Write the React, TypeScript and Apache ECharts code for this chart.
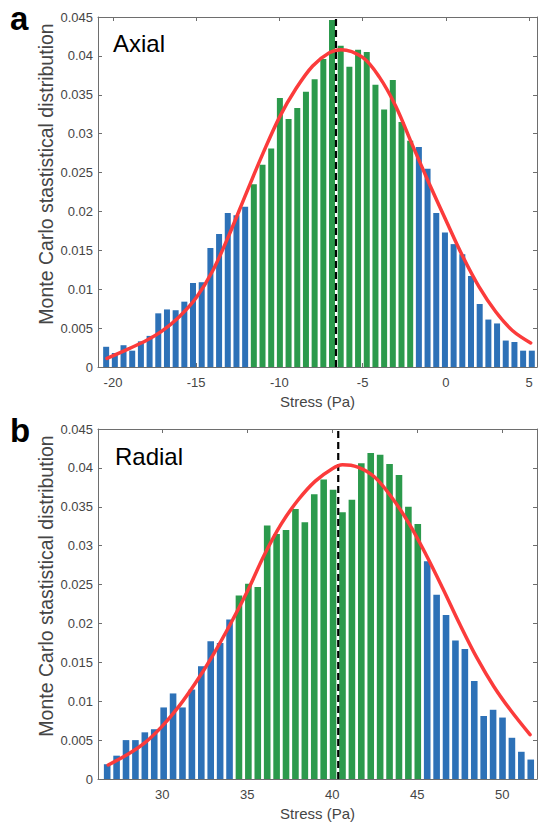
import React, { useEffect, useRef } from "react";
import * as echarts from "echarts";

// ---------- Data ----------
// Panel a (Axial)
const axialBinStart = -20.41; // centre of first bin (Pa)
const axialBinWidth = 0.522;
const axialValues = [
  0.0026, 0.0018, 0.0028, 0.0021, 0.0033, 0.004, 0.0069, 0.0074, 0.0073, 0.0084,
  0.0108, 0.0109, 0.0153, 0.0171, 0.0198, 0.0195, 0.0206, 0.0235, 0.026, 0.0281,
  0.0346, 0.0319, 0.0333, 0.0354, 0.037, 0.0396, 0.0446, 0.0413, 0.0386, 0.0408,
  0.0405, 0.0363, 0.0331, 0.0369, 0.0315, 0.0291, 0.0283, 0.0255, 0.0198, 0.0173,
  0.0158, 0.0145, 0.0117, 0.0081, 0.0061, 0.0056, 0.0034, 0.0032, 0.0021, 0.0021,
];
const axialCentralRange = [17, 35]; // indices of green (central) bins
const axialMean = -6.6;
const axialFitX = [-20.36, -19, -18, -17, -16, -15, -14, -13, -12, -11, -10, -9, -8, -7, -6.3, -5, -4, -3, -2, -1, 0, 1, 2, 3, 4, 5.1];
const axialFitY = [0.0011, 0.0024, 0.0034, 0.0047, 0.0065, 0.0089, 0.0124, 0.0171, 0.0223, 0.0274, 0.0321, 0.0358, 0.0387, 0.0404, 0.0408, 0.0398, 0.0373, 0.0335, 0.0285, 0.0236, 0.0189, 0.0143, 0.0103, 0.0071, 0.0047, 0.0031];
const axialXTicks = [-20, -15, -10, -5, 0, 5];
const axialXRange = [-20.9, 5.48];

// Panel b (Radial)
const radialBinStart = 26.76;
const radialBinWidth = 0.5536;
const radialValues = [
  0.0019, 0.003, 0.005, 0.005, 0.006, 0.0064, 0.0092, 0.011, 0.0092, 0.0115,
  0.0145, 0.0177, 0.0175, 0.0205, 0.0236, 0.0251, 0.0247, 0.0326, 0.0315, 0.032,
  0.0347, 0.033, 0.0366, 0.0385, 0.0372, 0.0343, 0.0359, 0.0406, 0.0419, 0.0417,
  0.0405, 0.0391, 0.035, 0.0328, 0.028, 0.0237, 0.0211, 0.0178, 0.0167, 0.0126,
  0.0081, 0.0089, 0.0079, 0.0053, 0.0035, 0.0025,
];
const radialCentralRange = [14, 33];
const radialMean = 40.35;
const radialFitX = [26.82, 28, 29, 30, 31, 32, 33, 34, 35, 36, 37, 38, 39, 40, 40.6, 41.5, 42.5, 43.5, 44.5, 45.5, 46.5, 47.5, 48.5, 49.5, 50.5, 51.63];
const radialFitY = [0.0018, 0.0032, 0.0047, 0.0068, 0.0094, 0.0125, 0.016, 0.0199, 0.0241, 0.0288, 0.0328, 0.0359, 0.0383, 0.0399, 0.0404, 0.0401, 0.0388, 0.0362, 0.0329, 0.0289, 0.0245, 0.0199, 0.0156, 0.0119, 0.0088, 0.0057];
const radialXTicks = [30, 35, 40, 45, 50];
const radialXRange = [26.22, 52.04];

const yMax = 0.045;
const yStep = 0.005;
const panelTitles = ["Axial", "Radial"];
const panelLetters = ["a", "b"];
const xAxisTitle = "Stress (Pa)";
const yAxisTitle = "Monte Carlo stastistical distribution";

// ---------- Styles ----------
const FONT = "'Liberation Sans', Arial, Helvetica, sans-serif";
const BLUE = "#2d71b7";
const GREEN = "#2b9a4c";
const RED = "#fb3b3b";
const AXIS = "#6e6e6e";
const LABEL = "#454545";

export default function App() {
  const ref = useRef<HTMLDivElement>(null);

  useEffect(() => {
    if (!ref.current) return;
    const chart = echarts.init(ref.current, undefined, { renderer: "svg" });

    const grids = [
      { left: 98, top: 17, width: 439, height: 350 },
      { left: 98, top: 429, width: 439, height: 350 },
    ];

    const panels = [
      { start: axialBinStart, w: axialBinWidth, vals: axialValues, central: axialCentralRange, mean: axialMean, fx: axialFitX, fy: axialFitY, ticks: axialXTicks, range: axialXRange, barW: 6 },
      { start: radialBinStart, w: radialBinWidth, vals: radialValues, central: radialCentralRange, mean: radialMean, fx: radialFitX, fy: radialFitY, ticks: radialXTicks, range: radialXRange, barW: 6.6 },
    ];

    const xAxis: any[] = [];
    const yAxis: any[] = [];
    const series: any[] = [];
    const graphic: any[] = [];

    const fmt = (v: number) => String(parseFloat(v.toFixed(4)));

    panels.forEach((p, gi) => {
      const baseX = {
        type: "value",
        gridIndex: gi,
        min: p.range[0],
        max: p.range[1],
        splitLine: { show: false },
        axisLine: { show: true, onZero: false, lineStyle: { color: AXIS, width: 1 } },
        axisTick: { show: true, inside: true, length: 4, lineStyle: { color: AXIS }, customValues: p.ticks },
      };
      xAxis.push({
        ...baseX,
        position: "bottom",
        axisLabel: { show: true, customValues: p.ticks, color: LABEL, fontSize: 13, fontFamily: FONT, margin: 9 },
        name: xAxisTitle,
        nameLocation: "middle",
        nameGap: 27,
        nameTextStyle: { color: LABEL, fontSize: 15, fontFamily: FONT },
      });
      xAxis.push({
        ...baseX,
        position: "top",
        axisLabel: { show: false, customValues: p.ticks },
      });
      const baseY = {
        type: "value",
        gridIndex: gi,
        min: 0,
        max: yMax,
        interval: yStep,
        splitLine: { show: false },
        axisLine: { show: true, onZero: false, lineStyle: { color: AXIS, width: 1 } },
        axisTick: { show: true, inside: true, length: 4, lineStyle: { color: AXIS } },
      };
      yAxis.push({
        ...baseY,
        position: "left",
        axisLabel: { show: true, color: LABEL, fontSize: 13, fontFamily: FONT, margin: 5, formatter: fmt },
      });
      yAxis.push({ ...baseY, position: "right", axisLabel: { show: false } });

      const xi = gi * 2;
      const yi = gi * 2;
      series.push({
        type: "bar",
        xAxisIndex: xi,
        yAxisIndex: yi,
        barWidth: p.barW,
        z: 2,
        data: p.vals.map((v, i) => ({
          value: [p.start + i * p.w, v],
          itemStyle: { color: i >= p.central[0] && i <= p.central[1] ? GREEN : BLUE },
        })),
      });
      series.push({
        type: "line",
        xAxisIndex: xi,
        yAxisIndex: yi,
        z: 4,
        symbol: "none",
        lineStyle: { color: "#000", width: 2.2, type: [7, 4] },
        data: [
          [p.mean, 0],
          [p.mean, yMax],
        ],
      });
      series.push({
        type: "line",
        xAxisIndex: xi,
        yAxisIndex: yi,
        z: 5,
        symbol: "none",
        smooth: 0.35,
        lineStyle: { color: RED, width: 3.5, cap: "round" },
        data: p.fx.map((x, i) => [x, p.fy[i]]),
      });

      const top = grids[gi].top;
      graphic.push({
        type: "text",
        x: 46,
        y: top + 157,
        rotation: Math.PI / 2,
        style: { text: yAxisTitle, fill: LABEL, font: `19.5px ${FONT}`, align: "center", verticalAlign: "middle" },
      });
      graphic.push({
        type: "text",
        x: 113 + (gi === 1 ? 2 : 0),
        y: top + 26 + (gi === 1 ? 1 : 0),
        style: { text: panelTitles[gi], fill: "#000", font: `24px ${FONT}`, align: "left", verticalAlign: "middle" },
      });
      graphic.push({
        type: "text",
        x: 10,
        y: gi === 0 ? 18 : 430,
        style: { text: panelLetters[gi], fill: "#000", font: `bold 33px ${FONT}`, align: "left", verticalAlign: "middle" },
      });
    });

    chart.setOption({
      animation: false,
      backgroundColor: "#fff",
      grid: grids,
      xAxis,
      yAxis,
      series,
      graphic,
    });

    return () => chart.dispose();
  }, []);

  return <div ref={ref} style={{ position: "absolute", left: 0, top: 0, width: 538, height: 824 }} />;
}
